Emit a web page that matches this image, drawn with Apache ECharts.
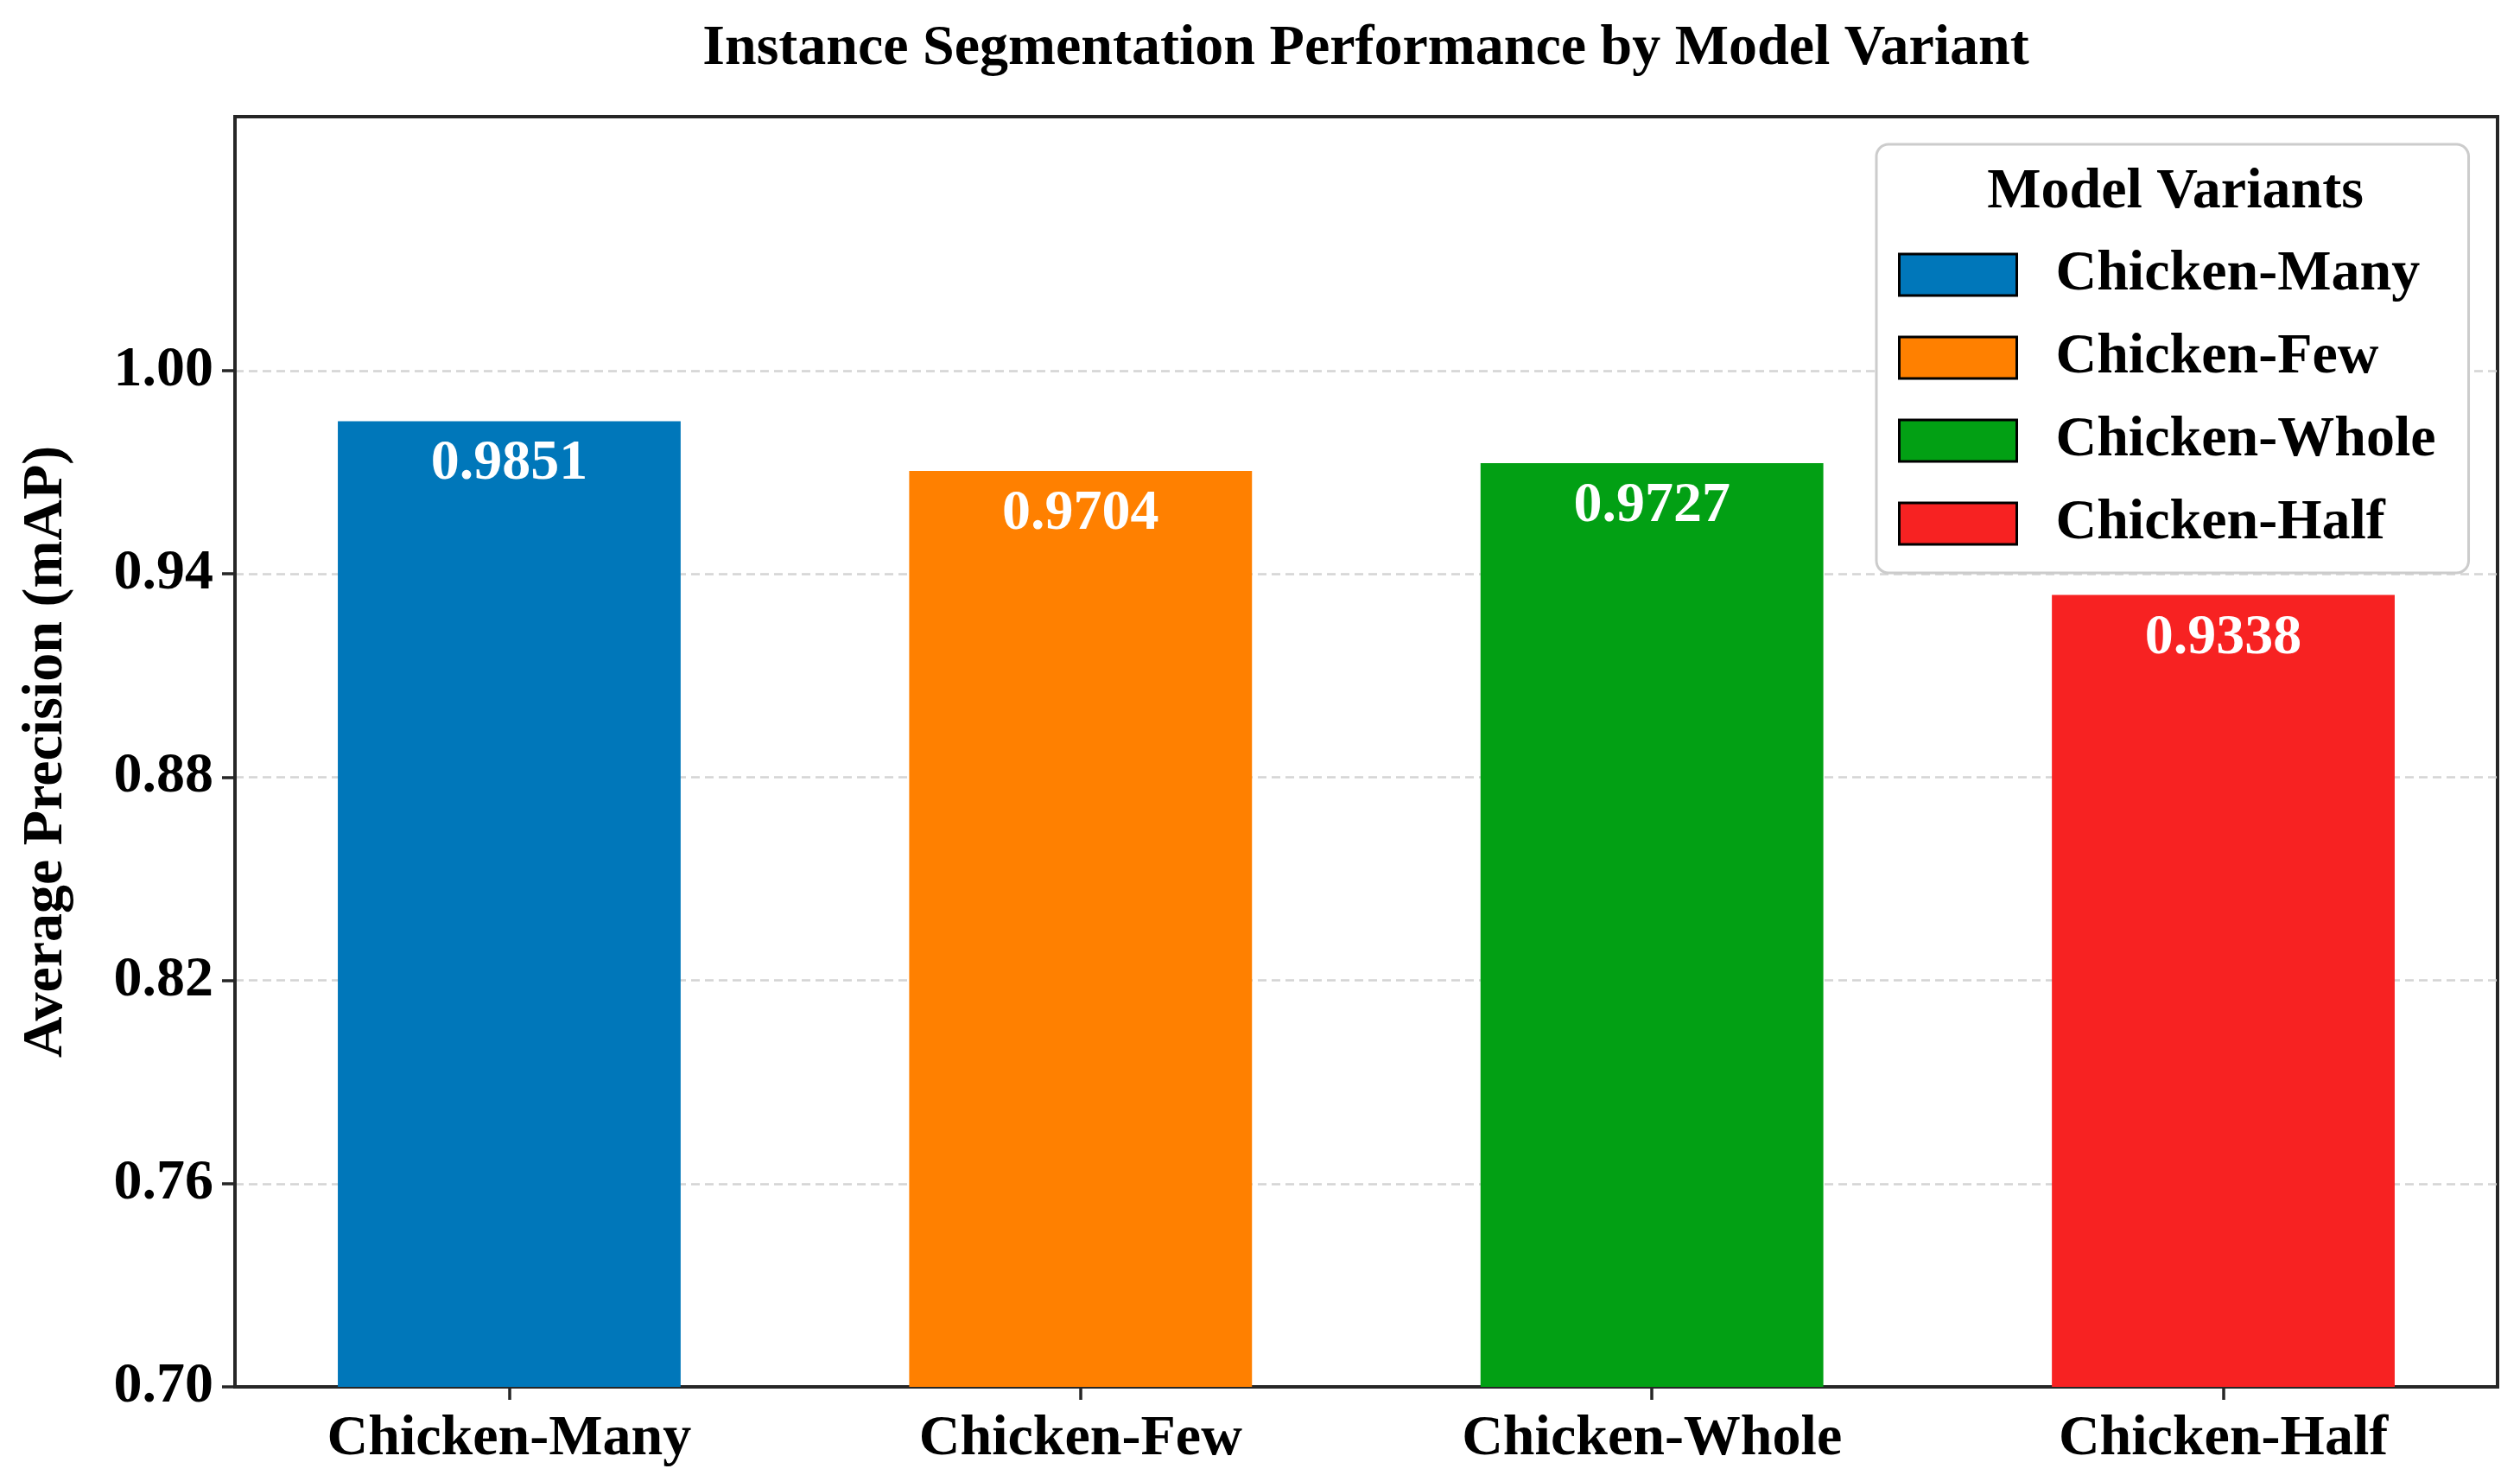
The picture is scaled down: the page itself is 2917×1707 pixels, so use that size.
<!DOCTYPE html>
<html>
<head>
<meta charset="utf-8">
<script src="https://cdn.jsdelivr.net/npm/echarts@6/dist/echarts.min.js"></script>
<style>
  html, body { margin: 0; padding: 0; background: #ffffff; }
  #chart { width: 2917px; height: 1707px; }
</style>
</head>
<body>
<div id="chart"></div>
<script>
const categories = ['Chicken-Many', 'Chicken-Few', 'Chicken-Whole', 'Chicken-Half'];
const mapValues = [0.9851, 0.9704, 0.9727, 0.9338];
const barColors = ['#0077BA', '#FF8000', '#02A014', '#F72222'];
const yTicks = [0.70, 0.76, 0.82, 0.88, 0.94, 1.00];
const xTicks = [0, 1, 2, 3];
const chartTitle = 'Instance Segmentation Performance by Model Variant';
const yAxisTitle = 'Average Precision (mAP)';
const legendTitle = 'Model Variants';

const FONT = "'Liberation Serif', 'Times New Roman', 'DejaVu Serif', serif";
const AXIS_COLOR = '#262626';
const gridLeft = 272, gridRight = 26, gridTop = 135, gridBottom = 102;
const xMin = -0.48, xMax = 3.48;
const plotWidth = 2917 - gridLeft - gridRight;
const barWidthPx = 0.6 * plotWidth / (xMax - xMin);

const chart = echarts.init(document.getElementById('chart'), null, { renderer: 'canvas' });

const series = categories.map((name, i) => ({
  name: name,
  type: 'bar',
  data: [[xTicks[i], mapValues[i]]],
  barWidth: barWidthPx,
  barGap: '-100%',
  itemStyle: { color: barColors[i] },
  label: {
    show: true,
    position: 'insideTop',
    distance: 17,
    color: '#ffffff',
    fontFamily: FONT,
    fontWeight: 'bold',
    fontSize: 66,
    lineHeight: 66,
    formatter: p => p.value[1].toFixed(4)
  }
}));

const option = {
  backgroundColor: '#ffffff',
  animation: false,
  grid: {
    left: gridLeft, right: gridRight, top: gridTop, bottom: gridBottom,
    show: true, borderColor: AXIS_COLOR, borderWidth: 4, backgroundColor: 'transparent'
  },
  graphic: [
    {
      type: 'text', z: 100, x: 1581, y: 57,
      style: {
        text: chartTitle, fill: '#000', font: 'bold 66px ' + FONT,
        align: 'center', verticalAlign: 'middle'
      }
    },
    {
      type: 'text', z: 100, x: 2518, y: 223,
      style: {
        text: legendTitle, fill: '#000', font: 'bold 66px ' + FONT,
        align: 'center', verticalAlign: 'middle'
      }
    }
  ],
  legend: {
    data: categories,
    orient: 'vertical',
    left: 2172,
    top: 167,
    padding: [118, 38, 24, 25],
    itemWidth: 136,
    itemHeight: 48,
    itemGap: 30,
    icon: 'rect',
    selectedMode: false,
    backgroundColor: '#ffffff',
    borderColor: '#cccccc',
    borderWidth: 3,
    borderRadius: 14,
    itemStyle: { borderColor: '#000', borderWidth: 3 },
    textStyle: {
      fontFamily: FONT, fontWeight: 'bold', fontSize: 66, lineHeight: 66,
      color: '#000', padding: [0, 0, 0, 40]
    }
  },
  xAxis: {
    type: 'value',
    min: xMin,
    max: xMax,
    axisLine: { show: true, onZero: false, lineStyle: { color: AXIS_COLOR, width: 4 } },
    axisTick: { show: true, inside: false, length: 15, customValues: xTicks, lineStyle: { color: AXIS_COLOR, width: 3.5 } },
    axisLabel: {
      show: true, customValues: xTicks, margin: 28,
      fontFamily: FONT, fontWeight: 'bold', fontSize: 66, lineHeight: 66, color: '#000',
      formatter: v => categories[Math.round(v)]
    },
    splitLine: { show: false }
  },
  yAxis: {
    type: 'value',
    min: 0.70,
    max: 1.075,
    name: yAxisTitle,
    nameLocation: 'middle',
    nameGap: 185,
    nameTextStyle: { fontFamily: FONT, fontWeight: 'bold', fontSize: 66, lineHeight: 66, color: '#000' },
    axisLine: { show: true, onZero: false, lineStyle: { color: AXIS_COLOR, width: 4 } },
    axisTick: { show: true, inside: false, length: 15, customValues: yTicks, lineStyle: { color: AXIS_COLOR, width: 3.5 } },
    axisLabel: {
      show: true, customValues: yTicks, margin: 25,
      fontFamily: FONT, fontWeight: 'bold', fontSize: 66, lineHeight: 66, color: '#000',
      padding: [5, 0, 0, 0],
      formatter: v => v.toFixed(2)
    },
    splitLine: { show: true, lineStyle: { color: '#d4d4d4', width: 2.5, type: [10, 6] } }
  },
  series: series
};

chart.setOption(option);
</script>
</body>
</html>
